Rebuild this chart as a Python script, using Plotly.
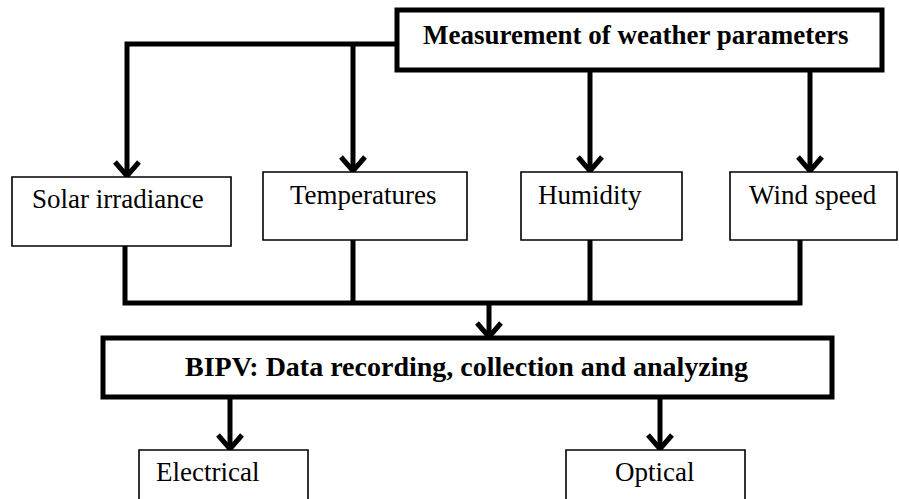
import plotly.graph_objects as go

# ---- content (node labels) ----
source_label = "Measurement of weather parameters"
parameter_labels = ["Solar irradiance", "Temperatures", "Humidity", "Wind speed"]
hub_label = "BIPV: Data recording, collection and analyzing"
output_labels = ["Electrical", "Optical"]

W, H = 899, 499
FONT = "Liberation Serif, Times New Roman, serif"

# ---- layout geometry (pixels in a 899x499 canvas) ----
source_box = dict(x0=397, y0=10, x1=882, y1=70, lw=5, tx=636, ty=35)
param_boxes = [
    dict(x0=12, y0=177, x1=231, y1=246, lw=1.6, tx=118, ty=199),
    dict(x0=263, y0=172, x1=467, y1=240, lw=1.6, tx=363, ty=195),
    dict(x0=521, y0=172, x1=682, y1=240, lw=1.6, tx=590, ty=195),
    dict(x0=730, y0=172, x1=897, y1=240, lw=1.6, tx=813, ty=195),
]
hub_box = dict(x0=103, y0=338, x1=832, y1=397, lw=5, tx=466, ty=366)
out_boxes = [
    dict(x0=139, y0=450, x1=308, y1=540, lw=1.6, tx=207, ty=472),
    dict(x0=566, y0=450, x1=745, y1=540, lw=1.6, tx=654, ty=472),
]

connectors = [
    [(397, 44), (127, 44), (127, 177)],
    [(353, 44), (353, 172)],
    [(590, 70), (590, 172)],
    [(810, 70), (810, 172)],
    [(125, 246), (125, 303), (800, 303), (800, 240)],
    [(353, 240), (353, 303)],
    [(590, 240), (590, 303)],
    [(489, 303), (489, 338)],
    [(230, 397), (230, 450)],
    [(660, 397), (660, 450)],
]
arrow_tips = [(127, 177), (353, 172), (590, 172), (810, 172), (489, 338), (230, 450), (660, 450)]

fig = go.Figure()
fig.add_trace(go.Scatter(x=[0, W], y=[0, H], mode="markers", marker=dict(opacity=0), hoverinfo="skip", showlegend=False))

shapes = []
annotations = []

def add_box(b, label, bold, size):
    shapes.append(dict(type="rect", xref="x", yref="y", x0=b["x0"], y0=b["y0"], x1=b["x1"], y1=b["y1"],
                       line=dict(color="black", width=b["lw"]), fillcolor="white", layer="above"))
    txt = f"<b>{label}</b>" if bold else label
    annotations.append(dict(x=b["tx"], y=b["ty"], xref="x", yref="y", text=txt, showarrow=False,
                            xanchor="center", yanchor="middle",
                            font=dict(family=FONT, size=size, color="black")))

for pts in connectors:
    path = "M " + " L ".join(f"{x},{y}" for x, y in pts)
    shapes.append(dict(type="path", xref="x", yref="y", path=path,
                       line=dict(color="black", width=5), layer="above"))

for (x, y) in arrow_tips:
    path = f"M {x-12},{y-15} L {x},{y-1} L {x+12},{y-15}"
    shapes.append(dict(type="path", xref="x", yref="y", path=path,
                       line=dict(color="black", width=5), layer="above"))

add_box(source_box, source_label, True, 27)
for b, lab in zip(param_boxes, parameter_labels):
    add_box(b, lab, False, 27)
add_box(hub_box, hub_label, True, 28)
for b, lab in zip(out_boxes, output_labels):
    add_box(b, lab, False, 27)

fig.update_layout(
    width=W, height=H, margin=dict(l=0, r=0, t=0, b=0),
    paper_bgcolor="white", plot_bgcolor="white",
    xaxis=dict(range=[0, W], visible=False, fixedrange=True),
    yaxis=dict(range=[H, 0], visible=False, fixedrange=True),
    shapes=shapes, annotations=annotations, showlegend=False,
)

fig.write_html("out.html", config={"displayModeBar": False},
               post_script="document.body.style.margin='0';document.body.style.overflow='hidden';")
